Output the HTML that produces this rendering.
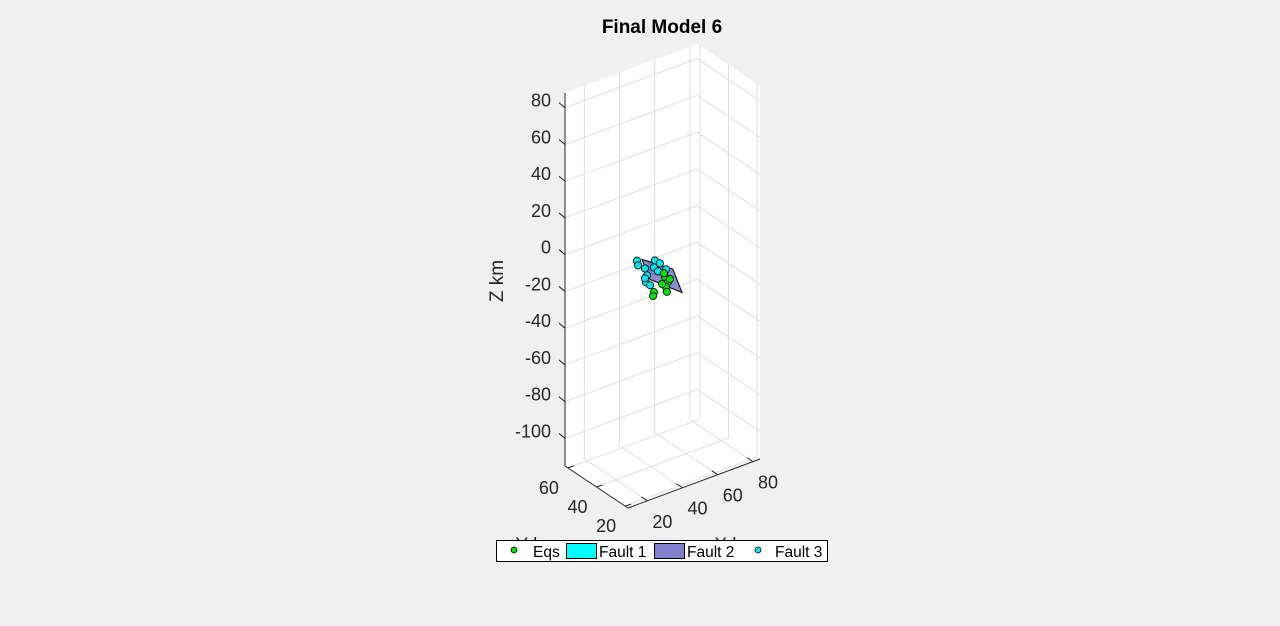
<!DOCTYPE html>
<html><head><meta charset="utf-8"><style>
body{margin:0;background:#f0f0f0;}
svg{display:block;font-family:"Liberation Sans",sans-serif;}
</style></head><body>
<svg id="chart" width="1280" height="626" viewBox="0 0 1280 626">
<rect width="1280" height="626" fill="#f0f0f0"/>
<text x="662" y="33" text-anchor="middle" font-size="19" font-weight="bold" fill="#000">Final Model 6</text>
<g id="plot"></g>
</svg>
<script>
const zTicks=[80,60,40,20,0,-20,-40,-60,-80,-100];
const xTicks=[20,40,60,80];
const yTicks=[20,40,60];
const eqX=[47.9,49.6,48.5,46.2,50.7,49,41.6,41.1,47.3];
const eqY=[40,40,40,40,40,40,40,40,40];
const eqZ=[-14.6,-17.9,-20.2,-17.8,-16.7,-23,-20.5,-22.5,-12.3];
const f3X=[32,32.6,36.5,37.7,37.1,42.2,45,41.6,36.5,39.4,43.9,48.5];
const f3Y=[40,40,40,40,40,40,40,40,40,40,40,40];
const f3Z=[0,-2.8,-5.8,-10,-13.6,-3.5,-6,-7.1,-11.2,-16,-10,-10.6];
const f1X=[38.4,46.3,47.4,39.4];const f1Y=[40,40,40,40];const f1Z=[-3.3,-7.6,-14.5,-9.5];
const f2X=[34.8,52.4,57.6,39.4];const f2Y=[40,40,40,40];const f2Z=[-0.3,-11.9,-26.5,-12.8];

const xmin=9,xmax=84,ymin=18,ymax=62,zmin=-115,zmax=88;
const B=[628,508],C=[760,459],A=[565,466],H=373;
function P(x,y,z){const a=(x-xmin)/(xmax-xmin),b=(y-ymin)/(ymax-ymin),c=(z-zmin)/(zmax-zmin);
return [B[0]+a*(C[0]-B[0])+b*(A[0]-B[0]), B[1]+a*(C[1]-B[1])+b*(A[1]-B[1])-c*H];}
const NS='http://www.w3.org/2000/svg';const g=document.getElementById('plot');
function el(t,at){const e=document.createElementNS(NS,t);for(const k in at)e.setAttribute(k,at[k]);g.appendChild(e);return e;}
function line(p,q,st,w){return el('line',{x1:p[0],y1:p[1],x2:q[0],y2:q[1],stroke:st,'stroke-width':w||1});}
function poly(pts,fill,st){return el('polygon',{points:pts.map(p=>p.join(',')).join(' '),fill:fill,stroke:st||'none'});}
const w1=poly([P(xmin,ymax,zmin),P(xmax,ymax,zmin),P(xmax,ymax,zmax),P(xmin,ymax,zmax)],'#fff');

const w2=poly([P(xmax,ymin,zmin),P(xmax,ymax,zmin),P(xmax,ymax,zmax),P(xmax,ymin,zmax)],'#fff');

const w3=poly([P(xmin,ymin,zmin),P(xmax,ymin,zmin),P(xmax,ymax,zmin),P(xmin,ymax,zmin)],'#fff');

const gc='#dedede';
zTicks.forEach(z=>{let l=line(P(xmin,ymax,z),P(xmax,ymax,z),gc);
l=line(P(xmax,ymax,z),P(xmax,ymin,z),gc);});
xTicks.forEach(x=>{let l=line(P(x,ymax,zmin),P(x,ymax,zmax),gc);
l=line(P(x,ymin,zmin),P(x,ymax,zmin),gc);});
yTicks.forEach(y=>{let l=line(P(xmax,y,zmin),P(xmax,y,zmax),gc);
l=line(P(xmin,y,zmin),P(xmax,y,zmin),gc);});
let ax=line(P(xmin,ymax,zmin),P(xmin,ymax,zmax),'#262626');
ax=line(P(xmin,ymin,zmin),P(xmax,ymin,zmin),'#262626');
ax=line(P(xmin,ymin,zmin),P(xmin,ymax,zmin),'#262626');
function txt(x,y,s,anchor,name){const t=el('text',{x:x,y:y,'text-anchor':anchor,'font-size':18,fill:'#262626'});t.textContent=s;
return t;}
zTicks.forEach(z=>{const p=P(xmin,ymax,z);const tk=line(p,[p[0]-6,p[1]-5],'#262626');
txt(p[0]-14,p[1]-1,String(z),'end','z-tick-label');});
xTicks.forEach(x=>{const p=P(x,ymin,zmin);const tk=line(p,[p[0]-6,p[1]-4],'#262626');
txt(p[0]+15,p[1]+27,String(x),'middle','x-tick-label');});
yTicks.forEach(y=>{const p=P(xmin,y,zmin);const tk=line(p,[p[0]+6,p[1]-2],'#262626');
txt(p[0]-19,p[1]+26,String(y),'middle','y-tick-label');});
let zl=el('text',{x:0,y:0,'font-size':19,fill:'#262626','text-anchor':'middle',transform:'translate(503,281) rotate(-90)'});zl.textContent='Z km';

let xl=txt(736,551,'X km','middle','x-axis-title');xl.setAttribute('font-size',19);
let yl=txt(537,551,'Y km','middle','y-axis-title');yl.setAttribute('font-size',19);
const f1=poly(f1X.map((x,i)=>P(x,f1Y[i],f1Z[i])),'#00ffff','#000');
const f2=poly(f2X.map((x,i)=>P(x,f2Y[i],f2Z[i])),'#8080cc','#000');f2.setAttribute('fill-opacity','0.9');
f3X.forEach((x,i)=>{const p=P(x,f3Y[i],f3Z[i]);const c=el('circle',{cx:p[0],cy:p[1],r:3.6,fill:'#00e5ee',stroke:'#000','stroke-width':0.8});
});
eqX.forEach((x,i)=>{const p=P(x,eqY[i],eqZ[i]);const c=el('circle',{cx:p[0],cy:p[1],r:3.6,fill:'#00e000',stroke:'#000','stroke-width':0.8});
});
const lg=el('rect',{x:496.5,y:540.5,width:331,height:21,fill:'#fff',stroke:'#000'});
let m=el('circle',{cx:514,cy:550,r:3,fill:'#00e000',stroke:'#000','stroke-width':0.8});
function lt(x,s,n){const t=el('text',{x:x,y:557,'font-size':15.5,fill:'#000'});t.textContent=s;}
lt(533,'Eqs','legend-eqs');
m=el('rect',{x:566.5,y:543.5,width:30,height:15,fill:'#00ffff',stroke:'#000'});
lt(599,'Fault 1','legend-fault-1');
m=el('rect',{x:654.5,y:543.5,width:30,height:15,fill:'#8080cc',stroke:'#000'});
lt(687,'Fault 2','legend-fault-2');
m=el('circle',{cx:758,cy:550,r:3,fill:'#00e5ee',stroke:'#000','stroke-width':0.8});
lt(775,'Fault 3','legend-fault-3');
</script>
</body></html>
